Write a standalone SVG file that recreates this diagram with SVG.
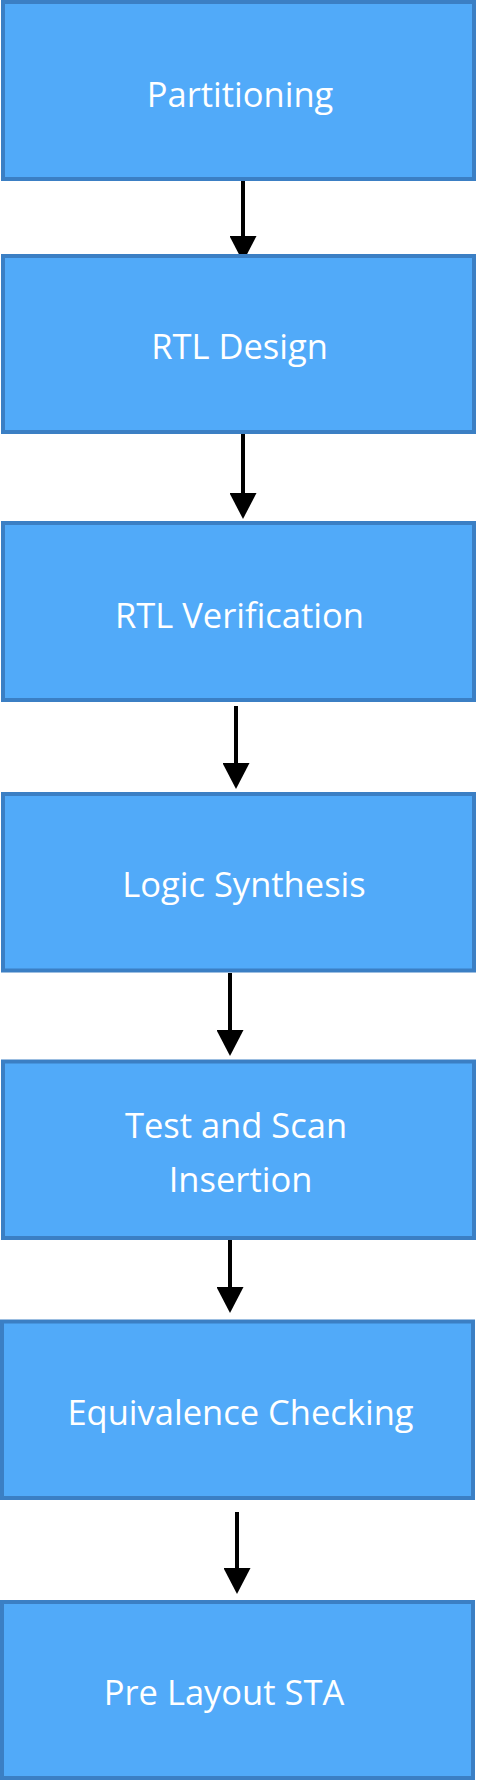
<svg xmlns="http://www.w3.org/2000/svg" width="477" height="1781" viewBox="0 0 477 1781">
  <style>
    .box { fill: #51aaf9; stroke: #3b7fc4; stroke-width: 4; }
    .lbl { font-family: "Open Sans", "Noto Sans", "Liberation Sans", sans-serif; font-size: 34.5px; fill: #ffffff; text-anchor: middle; }
    .conn { stroke: #000000; stroke-width: 4; fill: none; marker-end: url(#arrow); }
  </style>
  <defs>
    <marker id="arrow" viewBox="0 0 26 27" markerWidth="26" markerHeight="27" markerUnits="userSpaceOnUse" refX="1" refY="13.5" orient="auto">
      <path d="M0,0 L26,13.5 L0,27 Z" fill="#000000"/>
    </marker>
  </defs>
  <rect width="477" height="1781" fill="#ffffff"/>

  <g id="connectors">
    <line class="conn" x1="243" y1="180" x2="243" y2="237"/>
    <line class="conn" x1="243" y1="434" x2="243" y2="494"/>
    <line class="conn" x1="236" y1="706" x2="236" y2="764"/>
    <line class="conn" x1="230" y1="973" x2="230" y2="1031"/>
    <line class="conn" x1="230" y1="1240" x2="230" y2="1288"/>
    <line class="conn" x1="237" y1="1512" x2="237" y2="1569"/>
  </g>

  <g id="n1">
    <rect class="box" x="3" y="2" width="471" height="177"/>
    <text class="lbl" x="240" y="107">Partitioning</text>
  </g>
  <g id="n2">
    <rect class="box" x="3" y="256" width="471" height="176"/>
    <text class="lbl" x="239.5" y="359">RTL Design</text>
  </g>
  <g id="n3">
    <rect class="box" x="3" y="523" width="471" height="177"/>
    <text class="lbl" x="239.5" y="628">RTL Verification</text>
  </g>
  <g id="n4">
    <rect class="box" x="3" y="794" width="471" height="176.5"/>
    <text class="lbl" x="244" y="897">Logic Synthesis</text>
  </g>
  <g id="n5">
    <rect class="box" x="3" y="1061.5" width="471" height="176.5"/>
    <text class="lbl" x="236" y="1138">Test and Scan</text>
    <text class="lbl" x="240.5" y="1192">Insertion</text>
  </g>
  <g id="n6">
    <rect class="box" x="2" y="1321.5" width="471" height="176.5"/>
    <text class="lbl" x="240.5" y="1425">Equivalence Checking</text>
  </g>
  <g id="n7">
    <rect class="box" x="2" y="1602" width="471" height="176"/>
    <text class="lbl" x="224" y="1705">Pre Layout STA</text>
  </g>
</svg>
